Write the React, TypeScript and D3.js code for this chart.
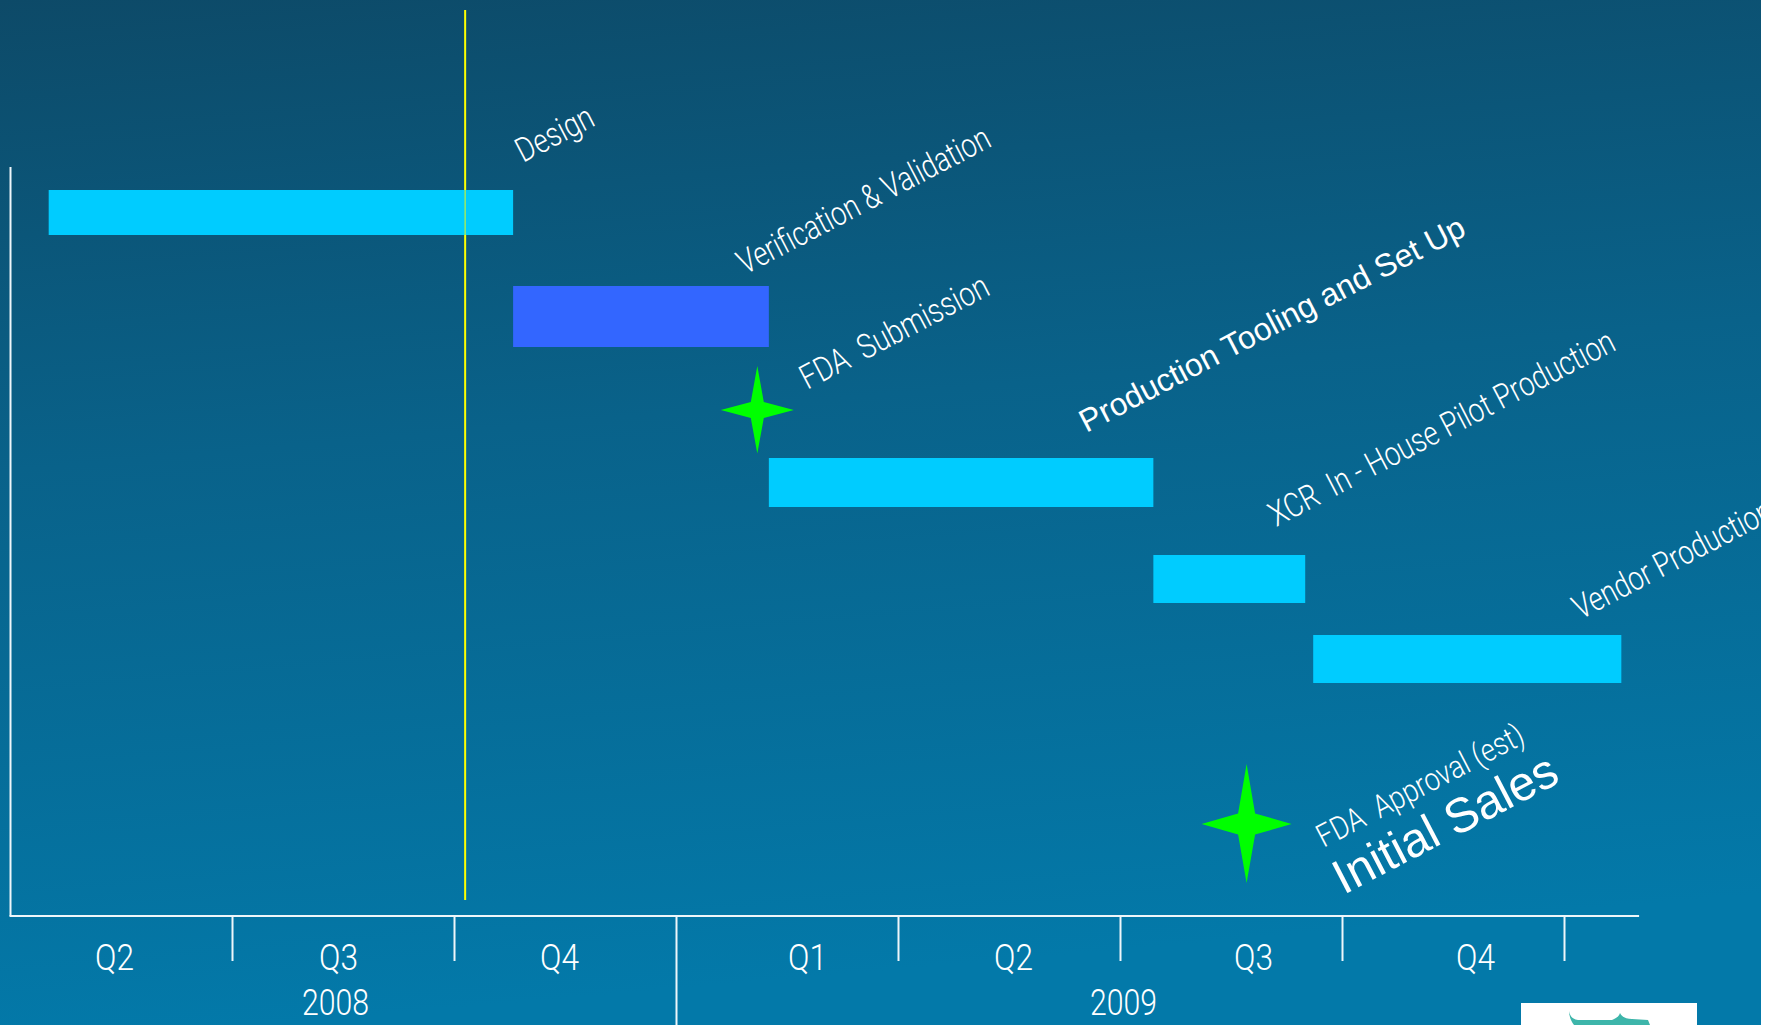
import React from 'react';
import * as d3 from 'd3';

const W = 1781;
const H = 1025;
const PANEL_W = 1761;

// Timeline values are fractional years (2008.25 = start of Q2 2008).
const quarterBounds = [2008.25, 2008.5, 2008.75, 2009, 2009.25, 2009.5, 2009.75, 2010];
const quarterLabels = ['Q2', 'Q3', 'Q4', 'Q1', 'Q2', 'Q3', 'Q4'];
const yearLabels = ['2008', '2009'];
const yearSpans = [[2008.25, 2009], [2009, 2010]];
const axisEnd = 2010.084;
const todayAt = 2008.762;

const taskNames = [
  'Design',
  'Verification & Validation',
  'Production Tooling and Set Up',
  'XCR  In - House Pilot Production',
  'Vendor Production',
];
const taskStart = [2008.293, 2008.816, 2009.104, 2009.537, 2009.717];
const taskEnd = [2008.816, 2009.104, 2009.537, 2009.708, 2010.064];

const milestoneNames = ['FDA  Submission', 'FDA  Approval (est)'];
const milestoneAt = [2009.091, 2009.642];
const milestoneNote = 'Initial Sales';

// ---- layout ----
const taskRows = [
  { top: 190, h: 45, fill: '#00CCFF' },
  { top: 286, h: 61, fill: '#3366FF' },
  { top: 458, h: 49, fill: '#00CCFF' },
  { top: 555, h: 48, fill: '#00CCFF' },
  { top: 635, h: 48, fill: '#00CCFF' },
];
// label anchor relative to bar end / bar top
const taskLabelLayout = [
  { dx: 10, dy: -27, len: 83, size: 34, thin: true },
  { dx: -24, dy: -11, len: 280, size: 34, thin: true },
  { dx: -67, dy: -25, len: 430, size: 32, thin: false },
  { dx: -29, dy: -28, len: 385, size: 34, thin: true },
  { dx: -41, dy: -15, len: 220, size: 34, thin: true },
];
const starLayout = [
  { cy: 410, hw: 36.5, up: 44, down: 43.5, iw: 6.5, ih: 8 },
  { cy: 824, hw: 45, up: 60, down: 59, iw: 8.5, ih: 10.5 },
];
const milestoneLabelLayout = [
  { dx: 50, dy: -20, len: 208, size: 34 },
  { dx: 77, dy: 24, len: 229, size: 32 },
];
const noteLayout = { dx: 97, dy: 71, len: 246, size: 48.5 };
const quarterNudge = [-7, -5, -6, 20, 4, 22, 22];
const yearNudge = [-8, 3];

const ANGLE = -27.5;
const AXIS_Y = 916;
const AXIS_TOP = 167;
const TICK_BOTTOM = 961;

const thinFont = "Roboto, 'Liberation Sans Narrow', 'DejaVu Sans Condensed', sans-serif";
const plainFont = "'Liberation Sans', Arial, sans-serif";

const x = d3.scaleLinear().domain([2008.25, 2010]).range([10.5, 1564.5]);

function starPath(s: { hw: number; up: number; down: number; iw: number; ih: number }) {
  const pts: [number, number][] = [
    [0, -s.up], [s.iw, -s.ih], [s.hw, 0], [s.iw, s.ih],
    [0, s.down], [-s.iw, s.ih], [-s.hw, 0], [-s.iw, -s.ih],
  ];
  return d3.line().curve(d3.curveLinearClosed)(pts) || '';
}

function Label({ x0, y0, text, len, size, thin, angle = ANGLE }: any) {
  return (
    <text
      transform={`translate(${x0},${y0}) rotate(${angle})`}
      fill="#ffffff"
      fontFamily={thin ? thinFont : plainFont}
      fontWeight={thin ? 300 : 400}
      fontSize={size}
      textLength={len}
      lengthAdjust="spacingAndGlyphs"
      style={{ whiteSpace: 'pre' }}
    >
      {text}
    </text>
  );
}

export default function App() {
  const qCenters = quarterLabels.map((_, i) => (x(quarterBounds[i]) + x(quarterBounds[i + 1])) / 2);
  return (
    <svg
      width={W}
      height={H}
      style={{ position: 'absolute', left: 0, top: 0, display: 'block', background: '#ffffff' }}
    >
      <defs>
        <linearGradient id="bg" x1="0" y1="0" x2="0.15" y2="1">
          <stop offset="0" stopColor="#0d4a68" />
          <stop offset="0.45" stopColor="#09628a" />
          <stop offset="1" stopColor="#0379a9" />
        </linearGradient>
      </defs>
      <rect x={0} y={0} width={PANEL_W} height={H} fill="url(#bg)" />

      {/* axes */}
      <g stroke="#eef6fa" strokeWidth={2} fill="none">
        <line x1={x(2008.25)} x2={x(2008.25)} y1={AXIS_TOP} y2={AXIS_Y} />
        <line x1={x(2008.25) - 1} x2={x(axisEnd)} y1={AXIS_Y} y2={AXIS_Y} />
        {quarterBounds.slice(1).map((q) => (
          <line key={q} x1={x(q)} x2={x(q)} y1={AXIS_Y} y2={q === 2009 ? H : TICK_BOTTOM} />
        ))}
      </g>

      {/* today marker */}
      <line x1={x(todayAt)} x2={x(todayAt)} y1={10} y2={900} stroke="#FFFF00" strokeWidth={2} />

      {/* task bars */}
      {taskNames.map((name, i) => (
        <rect
          key={name}
          x={x(taskStart[i])}
          y={taskRows[i].top}
          width={x(taskEnd[i]) - x(taskStart[i])}
          height={taskRows[i].h}
          fill={taskRows[i].fill}
        />
      ))}
      {/* today marker shows faintly through the first bar */}
      <line x1={x(todayAt)} x2={x(todayAt)} y1={taskRows[0].top} y2={taskRows[0].top + taskRows[0].h} stroke="#FFFF00" strokeWidth={1.5} opacity={0.6} />

      {/* task labels */}
      {taskNames.map((name, i) => {
        const L = taskLabelLayout[i];
        return (
          <Label
            key={name}
            x0={x(taskEnd[i]) + L.dx}
            y0={taskRows[i].top + L.dy}
            text={name}
            len={L.len}
            size={L.size}
            thin={L.thin}
          />
        );
      })}

      {/* milestones */}
      {milestoneNames.map((name, i) => {
        const s = starLayout[i];
        const L = milestoneLabelLayout[i];
        const cx = x(milestoneAt[i]);
        return (
          <g key={name}>
            <path d={starPath(s)} transform={`translate(${cx},${s.cy})`} fill="#00FF00" />
            <Label x0={cx + L.dx} y0={s.cy + L.dy} text={name} len={L.len} size={L.size} thin />
          </g>
        );
      })}
      <Label
        x0={x(milestoneAt[1]) + noteLayout.dx}
        y0={starLayout[1].cy + noteLayout.dy}
        text={milestoneNote}
        len={noteLayout.len}
        size={noteLayout.size}
        thin={false}
      />

      {/* quarter and year labels */}
      <g fill="#ffffff" fontFamily={thinFont} fontWeight={300} textAnchor="middle">
        {quarterLabels.map((q, i) => (
          <text key={i} x={qCenters[i] + quarterNudge[i]} y={970} fontSize={37} textLength={39} lengthAdjust="spacingAndGlyphs">
            {q}
          </text>
        ))}
        {yearLabels.map((y, i) => (
          <text
            key={y}
            x={(x(yearSpans[i][0]) + x(yearSpans[i][1])) / 2 + yearNudge[i]}
            y={1015}
            fontSize={37}
            textLength={67}
            lengthAdjust="spacingAndGlyphs"
          >
            {y}
          </text>
        ))}
      </g>

      {/* right margin outside the slide */}
      <rect x={PANEL_W} y={0} width={W - PANEL_W} height={H} fill="#ffffff" />

      {/* corner logo fragment */}
      <rect x={1521} y={1003} width={176} height={22} fill="#ffffff" />
      <path d="M1569,1011 C1570,1016 1572,1019 1578,1020 L1612,1020 C1617,1018 1619,1016 1620,1013 C1622,1017 1626,1019 1632,1019 L1648,1020 L1650,1025 L1574,1025 C1571,1021 1569,1016 1569,1011 Z" fill="#3db5aa" />
    </svg>
  );
}
